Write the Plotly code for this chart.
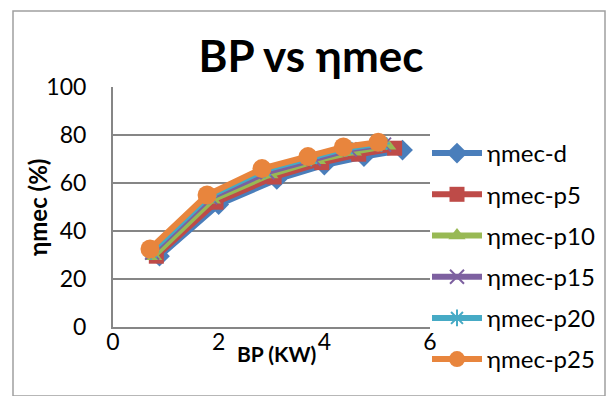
import plotly.graph_objects as go

names = ["ηmec-d", "ηmec-p5", "ηmec-p10", "ηmec-p15", "ηmec-p20", "ηmec-p25"]
bp_d = [0.88, 2.00, 3.10, 4.00, 4.75, 5.48]
bp_p5 = [0.82, 1.95, 3.05, 3.95, 4.65, 5.33]
bp_p10 = [0.77, 1.88, 2.97, 3.87, 4.55, 5.20]
bp_p15 = [0.74, 1.84, 2.92, 3.80, 4.48, 5.13]
bp_p20 = [0.72, 1.81, 2.87, 3.75, 4.42, 5.08]
bp_p25 = [0.70, 1.78, 2.82, 3.69, 4.36, 5.02]
eta_d = [29.5, 51.0, 61.5, 67.5, 71.0, 73.7]
eta_p5 = [29.5, 52.0, 62.5, 68.5, 72.0, 74.5]
eta_p10 = [29.5, 53.0, 63.5, 69.5, 73.0, 75.5]
eta_p15 = [31.0, 54.0, 64.5, 70.0, 74.0, 76.0]
eta_p20 = [31.5, 54.5, 65.5, 70.5, 74.5, 76.5]
eta_p25 = [32.5, 55.0, 66.0, 71.0, 75.0, 77.0]
x_ticks = [0, 2, 4, 6]
y_ticks = [0, 20, 40, 60, 80, 100]

xs = [bp_d, bp_p5, bp_p10, bp_p15, bp_p20, bp_p25]
ys = [eta_d, eta_p5, eta_p10, eta_p15, eta_p20, eta_p25]
colors = ["#4A7EBB", "#BE4B48", "#98B954", "#7D60A0", "#46AAC5", "#E8853D"]
symbols = ["diamond", "square", "triangle-up", "x-thin", "asterisk", "circle"]
sizes = [16, 15, 15, 14, 14, 19]

FONT = "Lato"
fig = go.Figure()
for i in range(6):
    thin = symbols[i] in ("x-thin", "asterisk")
    fig.add_trace(go.Scatter(
        x=xs[i], y=ys[i], name=names[i], mode="lines+markers",
        legendgroup=names[i],
        line=dict(color=colors[i], width=6),
        marker=dict(symbol=symbols[i], size=sizes[i], color=colors[i],
                    line=dict(color=colors[i], width=2 if thin else 0)),
    ))

fig.update_layout(
    width=612, height=396,
    margin=dict(l=113, r=182, t=87, b=69, autoexpand=False),
    paper_bgcolor="white", plot_bgcolor="white",
    font=dict(family=FONT, size=20, color="black"),
    title=dict(text="<b>BP vs ηmec</b>", x=311 / 612, xanchor="center",
               y=1 - 57 / 396, yanchor="middle",
               font=dict(family=FONT, size=44, color="black")),
    showlegend=True,
    legend=dict(x=(427 - 113) / 317, xanchor="left",
                yref="container", y=1 - 131 / 396,
                yanchor="top", traceorder="grouped", tracegroupgap=7,
                maxheight=396,
                font=dict(family=FONT, size=24, color="black"),
                bgcolor="rgba(0,0,0,0)", itemwidth=50),
    xaxis=dict(range=[0, 6], tickvals=x_ticks, showgrid=False,
               showline=True, linecolor="#868686", linewidth=2,
               ticks="", zeroline=False, automargin=False,
               ticklabelstandoff=-7,
               tickfont=dict(family=FONT, size=23)),
    yaxis=dict(range=[0, 100], tickvals=y_ticks, showgrid=True,
               gridcolor="#868686", gridwidth=2,
               showline=True, linecolor="#868686", linewidth=2,
               ticks="outside", ticklen=20, tickcolor="rgba(0,0,0,0)",
               zeroline=False, automargin=False,
               tickfont=dict(family=FONT, size=23)),
    annotations=[
        dict(text="<b>BP (KW)</b>", xref="paper", yref="paper",
             x=(276 - 113) / 317, y=(327 - 353) / 240, xanchor="center",
             yanchor="middle", showarrow=False,
             font=dict(family=FONT, size=21, color="black")),
        dict(text="<b>ηmec (%)</b>", xref="paper", yref="paper",
             x=(37 - 113) / 317, y=(327 - 208) / 240, xanchor="center",
             yanchor="middle", showarrow=False, textangle=-90,
             font=dict(family=FONT, size=24, color="black")),
    ],
    shapes=[dict(type="rect", xref="paper", yref="paper",
                 x0=(13 - 113) / 317, x1=(605 - 113) / 317,
                 y0=(327 - 396) / 240, y1=(327 - 11) / 240,
                 line=dict(color="#A0A0A0", width=1.5), layer="below")],
)
fig.write_html("out.html")
